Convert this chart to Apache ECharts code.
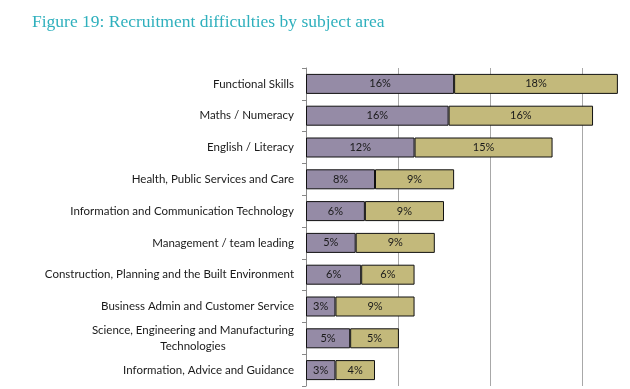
<!DOCTYPE html>
<html>
<head>
<meta charset="utf-8">
<script src="https://cdn.jsdelivr.net/npm/echarts@6/dist/echarts.min.js"></script>
<style>
html,body{margin:0;padding:0;background:#fff;}
#chart{width:630px;height:389px;}
</style>
</head>
<body>
<div id="chart"></div>
<script>
const titleText = 'Figure 19: Recruitment difficulties by subject area';
const categories = [
  'Functional Skills',
  'Maths / Numeracy',
  'English / Literacy',
  'Health, Public Services and Care',
  'Information and Communication Technology',
  'Management / team leading',
  'Construction, Planning and the Built Environment',
  'Business Admin and Customer Service',
  'Science, Engineering and Manufacturing\nTechnologies',
  'Information, Advice and Guidance'
];
const seriesA = [16.1, 15.5, 11.8, 7.5, 6.4, 5.4, 6.0, 3.2, 4.8, 3.2];
const seriesB = [17.8, 15.7, 15.0, 8.6, 8.6, 8.6, 5.8, 8.6, 5.3, 4.3];
const xTicks = [0, 10, 20, 30, 40];

const chart = echarts.init(document.getElementById('chart'));
const labelCfg = {
  show: true,
  position: 'inside',
  color: '#1a1a1a',
  fontFamily: 'Lato',
  fontSize: 11,
  formatter: p => Math.round(p.value) + '%'
};
chart.setOption({
  animation: false,
  title: {
    text: titleText,
    left: 27,
    top: 8,
    textStyle: {fontFamily: 'Liberation Serif', fontWeight: 'normal', fontSize: 17.5, color: '#2fb0bd'}
  },
  grid: {left: 306, top: 68, height: 318, width: 368, containLabel: false, outerBoundsMode: 'none'},
  xAxis: {
    type: 'value',
    min: xTicks[0],
    max: xTicks[xTicks.length - 1],
    interval: 10,
    axisLabel: {show: false},
    axisLine: {show: false},
    axisTick: {show: false},
    splitLine: {show: true, lineStyle: {color: '#a8a8a8', width: 1}}
  },
  yAxis: {
    type: 'category',
    data: categories,
    inverse: true,
    axisLine: {show: true, lineStyle: {color: '#888'}},
    axisTick: {show: true, length: 4, lineStyle: {color: '#888'}},
    axisLabel: {
      fontFamily: 'Lato', fontSize: 11.5, color: '#1a1a1a', margin: 12, lineHeight: 16, align: 'right',
      formatter: v => v.split('\n').map(s => '{c|' + s + '}').join('\n'),
      rich: {c: {align: 'center', fontFamily: 'Lato', fontSize: 11.5, color: '#1a1a1a', lineHeight: 16}}
    }
  },
  series: [
    {
      type: 'bar', stack: 's', data: seriesA, barWidth: 20,
      itemStyle: {color: '#958ba6', borderColor: '#111', borderWidth: 1},
      label: labelCfg
    },
    {
      type: 'bar', stack: 's', data: seriesB, barWidth: 20,
      itemStyle: {color: '#c3b97b', borderColor: '#111', borderWidth: 1},
      label: labelCfg
    }
  ]
});
</script>
</body>
</html>
